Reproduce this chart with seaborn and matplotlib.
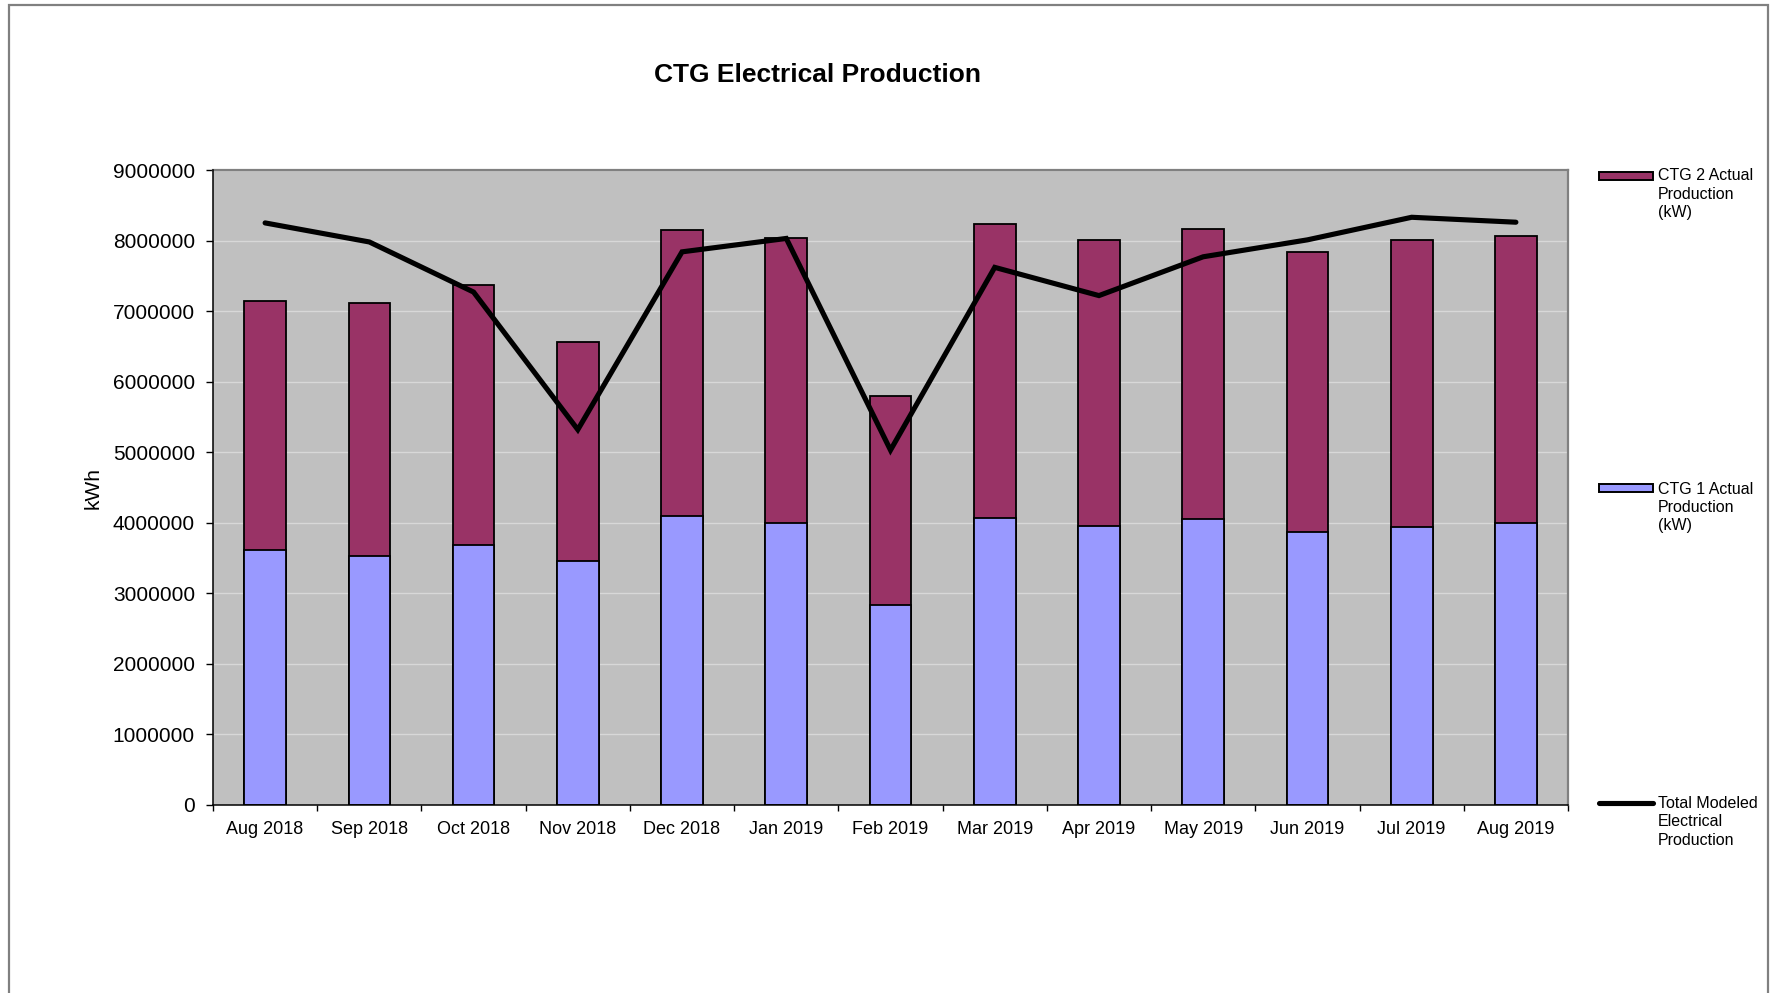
import numpy as np
import pandas as pd
import matplotlib
matplotlib.use("Agg")
import matplotlib.pyplot as plt
import seaborn as sns
from matplotlib.patches import Rectangle
from matplotlib.lines import Line2D
from matplotlib.ticker import FixedLocator, FuncFormatter

# ---- data (kWh) ----
months = ["Aug 2018", "Sep 2018", "Oct 2018", "Nov 2018", "Dec 2018", "Jan 2019",
          "Feb 2019", "Mar 2019", "Apr 2019", "May 2019", "Jun 2019", "Jul 2019", "Aug 2019"]
ctg1_actual = [3610000, 3530000, 3680000, 3460000, 4100000, 3990000, 2840000,
               4070000, 3960000, 4060000, 3870000, 3940000, 4000000]
ctg2_actual = [3540000, 3580000, 3690000, 3100000, 4050000, 4050000, 2960000,
               4160000, 4050000, 4110000, 3970000, 4070000, 4070000]
total_modeled = [8250000, 7980000, 7270000, 5320000, 7840000, 8030000, 5030000,
                 7620000, 7220000, 7770000, 8010000, 8330000, 8260000]
yticks = [0, 1000000, 2000000, 3000000, 4000000, 5000000, 6000000, 7000000, 8000000, 9000000]

title = "CTG Electrical Production"
ylabel = "kWh"
legend_labels = ["CTG 2 Actual\nProduction\n(kW)", "CTG 1 Actual\nProduction\n(kW)",
                 "Total Modeled\nElectrical\nProduction"]

col_ctg2 = "#993366"
col_ctg1 = "#9999FF"
col_bg = "#C0C0C0"

df = pd.DataFrame({"month": months, "ctg1": ctg1_actual, "ctg2": ctg2_actual,
                   "modeled": total_modeled})
df["stack_top"] = df["ctg1"] + df["ctg2"]
df["pos"] = np.arange(len(df))

sns.set_style("white")
plt.rcParams["font.family"] = ["Liberation Sans", "DejaVu Sans"]
plt.rcParams["text.color"] = "black"
plt.rcParams["xtick.color"] = "black"
plt.rcParams["ytick.color"] = "black"
plt.rcParams["axes.labelcolor"] = "black"

W, H = 1779, 993
fig = plt.figure(figsize=(W / 100, H / 100), dpi=100)
ax = fig.add_axes([213 / W, 1 - 805 / H, (1568 - 213) / W, (805 - 170) / H])
ax.set_facecolor(col_bg)

# stacked bars: upper segment drawn as full stack, lower segment on top
sns.barplot(data=df, x="month", y="stack_top", order=months, color=col_ctg2,
            saturation=1, width=0.4, edgecolor="black", linewidth=1.3, ax=ax, zorder=2)
sns.barplot(data=df, x="month", y="ctg1", order=months, color=col_ctg1,
            saturation=1, width=0.4, edgecolor="black", linewidth=1.3, ax=ax, zorder=3)
sns.lineplot(data=df, x="pos", y="modeled", color="black", linewidth=3.7,
             ax=ax, zorder=4, solid_capstyle="round", solid_joinstyle="miter")

ax.set_xlim(-0.5, len(months) - 0.5)
ax.set_ylim(0, 9000000)
ax.set_yticks(yticks)
ax.yaxis.set_major_formatter(FuncFormatter(lambda v, p: f"{int(v)}"))
ax.set_xticks(np.arange(len(months)))
ax.set_xticklabels(months)
ax.xaxis.set_minor_locator(FixedLocator(np.arange(len(months) + 1) - 0.5))
ax.set_xlabel("")
ax.set_ylabel("")

ax.grid(axis="y", color="#D8D8D8", linewidth=1.0, zorder=0)
ax.set_axisbelow(True)

ax.tick_params(axis="y", which="major", direction="out", length=5, width=1,
               color="black", labelcolor="black", pad=8, labelsize=15, left=True)
ax.tick_params(axis="x", which="major", length=0, pad=11.5, labelsize=13,
               labelcolor="black")
ax.tick_params(axis="x", which="minor", direction="out", length=4.5, width=1,
               color="black", bottom=True)

for s in ["left", "bottom"]:
    ax.spines[s].set_color("black")
    ax.spines[s].set_linewidth(1.1)
for s in ["top", "right"]:
    ax.spines[s].set_color("#808080")
    ax.spines[s].set_linewidth(1.6)
    ax.spines[s].set_visible(True)
ax.spines["left"].set_zorder(5)
ax.spines["bottom"].set_zorder(5)

# title and axis label
fig.text(818 / W, 1 - 74.5 / H, title, ha="center", va="center",
         fontsize=19, fontweight="bold", color="black")
fig.text(93 / W, 1 - 488 / H, ylabel, rotation=90, ha="center", va="center",
         fontsize=15, color="black")

# outer frame
fig.add_artist(Rectangle((9 / W, -0.02), (1768 - 9) / W, 1.02 - 5 / H,
                         transform=fig.transFigure, fill=False,
                         edgecolor="#808080", linewidth=1.6))

# legend entries (placed as in the original, spread down the right side)
fs_leg = 11.5
ls_leg = 1.28
fig.add_artist(Rectangle((1599 / W, 1 - 180 / H), 54 / W, 8 / H, transform=fig.transFigure,
                         facecolor=col_ctg2, edgecolor="black", linewidth=1.4))
fig.text(1658 / W, 1 - 168.5 / H, legend_labels[0], ha="left", va="top",
         fontsize=fs_leg, linespacing=ls_leg, color="black")
fig.add_artist(Rectangle((1599 / W, 1 - 492 / H), 54 / W, 8 / H, transform=fig.transFigure,
                         facecolor=col_ctg1, edgecolor="black", linewidth=1.4))
fig.text(1658 / W, 1 - 481.5 / H, legend_labels[1], ha="left", va="top",
         fontsize=fs_leg, linespacing=ls_leg, color="black")
fig.add_artist(Line2D([1599 / W, 1653 / W], [1 - 803 / H, 1 - 803 / H],
                      transform=fig.transFigure, color="black", linewidth=3.7,
                      solid_capstyle="round"))
fig.text(1658 / W, 1 - 796 / H, legend_labels[2], ha="left", va="top",
         fontsize=fs_leg, linespacing=ls_leg, color="black")

fig.savefig("out.png", dpi=100)
